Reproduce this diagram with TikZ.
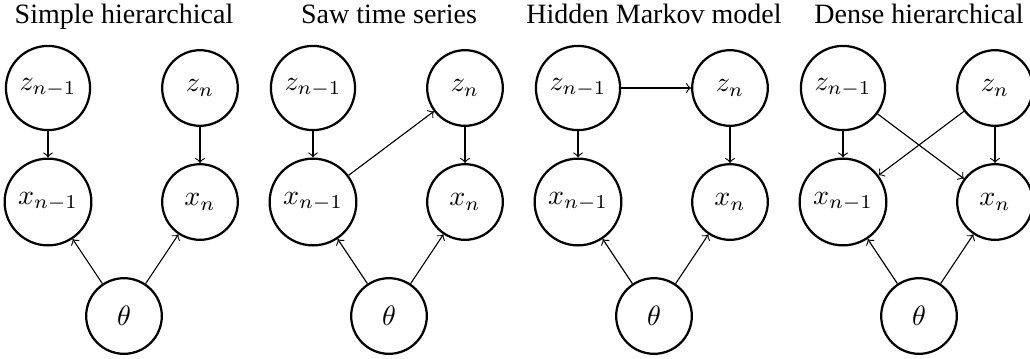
\documentclass[tikz,border=0pt]{standalone}
\usepackage{fontspec}
\setmainfont{Liberation Serif}
\usepackage{tikz}
\usetikzlibrary{arrows}
\tikzstyle{var} = [
    draw, thick, circle, minimum size=27pt,
]
\tikzstyle{arrow} = [->]
\tikzstyle{title} = [anchor=base, inner sep=0pt]

\begin{document}
\begin{tikzpicture}[x=0.357pt, y=-0.357pt]
    \useasboundingbox (0,0) rectangle (1030,358);
    % Simple hierarchical
    \node[title] (ta) at (124, 23) {Simple hierarchical};
    \node[var] (za1) at (48, 88) {$z_{n-1}$};
    \node[var] (za2) at (200, 88) {$z_n$};
    \node[var] (xa1) at (48, 202) {$x_{n-1}$};
    \node[var] (xa2) at (200, 202) {$x_n$};
    \node[var] (tha) at (124, 316) {$\theta$};
    \draw[arrow] (za1) -- (xa1);
    \draw[arrow] (za2) -- (xa2);
    \draw[arrow] (tha) -- (xa1);
    \draw[arrow] (tha) -- (xa2);

    % Saw time series
    \node[title] (tb) at (389, 23) {Saw time series};
    \node[var] (zb1) at (313, 88) {$z_{n-1}$};
    \node[var] (zb2) at (465, 88) {$z_n$};
    \node[var] (xb1) at (313, 202) {$x_{n-1}$};
    \node[var] (xb2) at (465, 202) {$x_n$};
    \node[var] (thb) at (389, 316) {$\theta$};
    \draw[arrow] (zb1) -- (xb1);
    \draw[arrow] (zb2) -- (xb2);
    \draw[arrow] (xb1) -- (zb2);
    \draw[arrow] (thb) -- (xb1);
    \draw[arrow] (thb) -- (xb2);

    % Hidden Markov model
    \node[title] (tc) at (654, 23) {Hidden Markov model};
    \node[var] (zc1) at (578, 88) {$z_{n-1}$};
    \node[var] (zc2) at (730, 88) {$z_n$};
    \node[var] (xc1) at (578, 202) {$x_{n-1}$};
    \node[var] (xc2) at (730, 202) {$x_n$};
    \node[var] (thc) at (654, 316) {$\theta$};
    \draw[arrow] (zc1) -- (zc2);
    \draw[arrow] (zc1) -- (xc1);
    \draw[arrow] (zc2) -- (xc2);
    \draw[arrow] (thc) -- (xc1);
    \draw[arrow] (thc) -- (xc2);

    % Dense hierarchical
    \node[title] (td) at (919, 23) {Dense hierarchical};
    \node[var] (zd1) at (843, 88) {$z_{n-1}$};
    \node[var] (zd2) at (995, 88) {$z_n$};
    \node[var] (xd1) at (843, 202) {$x_{n-1}$};
    \node[var] (xd2) at (995, 202) {$x_n$};
    \node[var] (thd) at (919, 316) {$\theta$};
    \draw[arrow] (zd1) -- (xd1);
    \draw[arrow] (zd2) -- (xd2);
    \draw[arrow] (zd1) -- (xd2);
    \draw[arrow] (zd2) -- (xd1);
    \draw[arrow] (thd) -- (xd1);
    \draw[arrow] (thd) -- (xd2);

\end{tikzpicture}
\end{document}
